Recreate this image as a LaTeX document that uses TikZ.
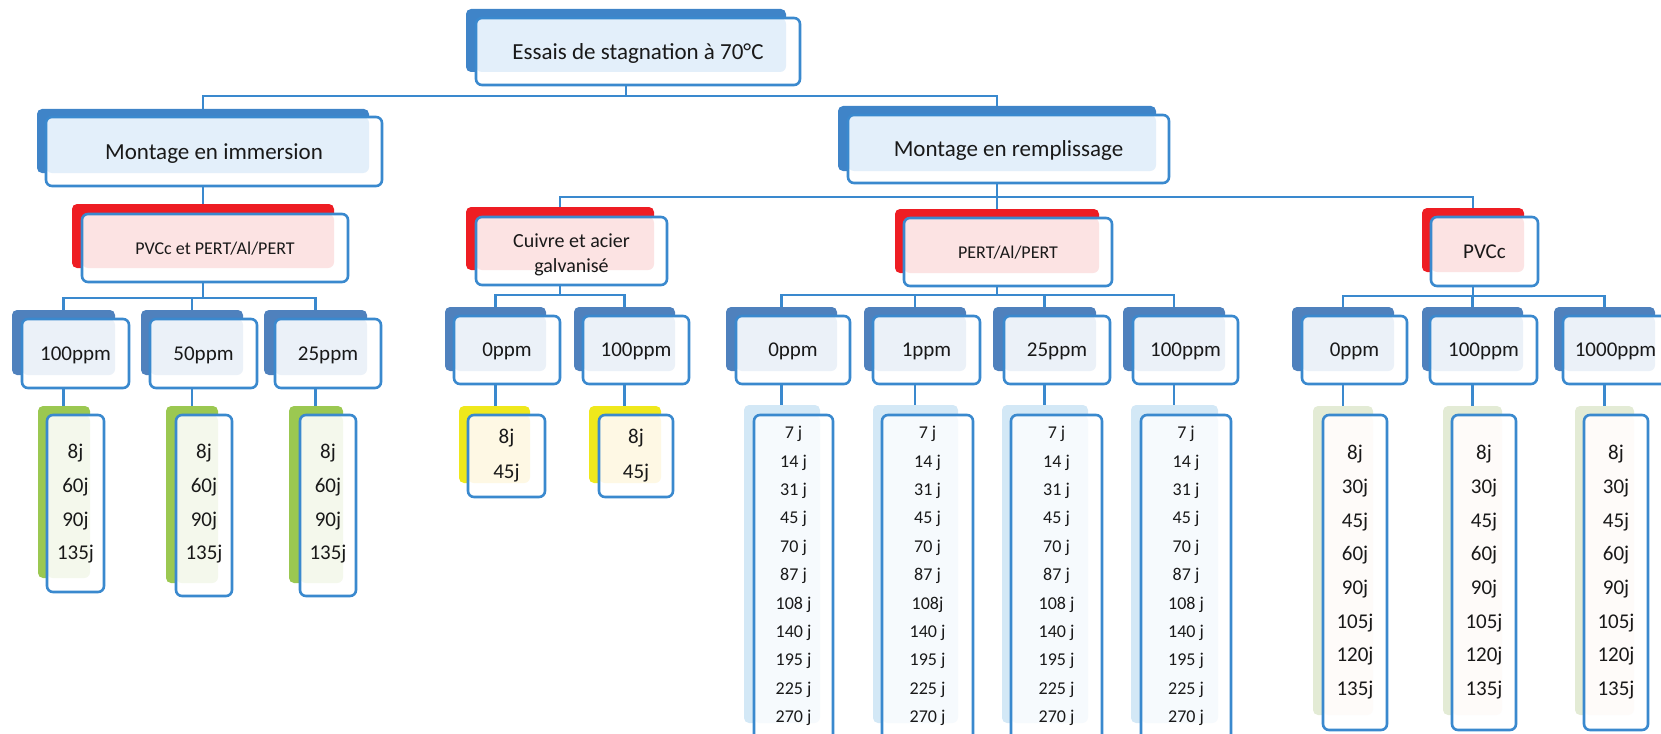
\documentclass[tikz,border=0pt]{standalone}
\usepackage{fontspec}
\setmainfont{Carlito}
\definecolor{lineC}{HTML}{3A89CE}
\definecolor{blueS}{HTML}{3F84C8}
\definecolor{blueT}{HTML}{E3EFFA}
\definecolor{ppmS}{HTML}{4F81BD}
\definecolor{ppmT}{HTML}{EBF1F8}
\definecolor{redS}{HTML}{EE1D23}
\definecolor{redT}{HTML}{FCE3E3}
\definecolor{greenS}{HTML}{9BC851}
\definecolor{greenT}{HTML}{F4F8EC}
\definecolor{yellowS}{HTML}{EFE81C}
\definecolor{yellowT}{HTML}{FEF8E4}
\definecolor{lblueS}{HTML}{D3E8F6}
\definecolor{lblueT}{HTML}{F6FAFD}
\definecolor{paleS}{HTML}{E3EBD5}
\definecolor{paleT}{HTML}{FEFBF9}
\pgfdeclarelayer{bg}
\pgfsetlayers{bg,main}
\tikzset{
  shd/.style={fill=#1S, draw=none, rounded corners=5pt, inner sep=0pt, outer sep=0pt},
  frt/.style={fill=white, draw=lineC, line width=2.6pt, rounded corners=6pt, inner sep=0pt, outer sep=0pt, text=black!90, text depth=0pt},
  conn/.style={draw=lineC, line width=2.6pt},
  daytxt/.style={font=\fontsize{21}{25}\selectfont, anchor=base, inner sep=0pt, text=black!90},
  daysm/.style={font=\fontsize{18}{22}\selectfont, anchor=base, inner sep=0pt, text=black!90},
}
% name, kind, x1, y1, x2, y2
\newcommand\shbox[6]{\node[shd=#2, minimum width={#5-#3}, minimum height={#6-#4}] (#1-s) at ({(#3+#5)/2},{(#4+#6)/2}) {};}
% name, kind, x1, y1, x2, y2, text
\newcommand\frbox[7]{\node[frt, minimum width={#5-#3}, minimum height={#6-#4},
  path picture={\fill[#2T] (path picture bounding box.north west) rectangle (#1-s.south east);}]
  (#1) at ({(#3+#5)/2},{(#4+#6)/2}) {#7};}
\newcommand\bigf{\fontsize{23}{28}\selectfont}
\newcommand\ppmf{\fontsize{21}{25}\selectfont}
\begin{document}
\begin{tikzpicture}[x=1pt,y=-1pt]
\useasboundingbox (0,0) rectangle (1661,733);
% level 0 and 1
\shbox{E}{blue}{466}{9}{786}{72}
\frbox{E}{blue}{476}{18}{800}{85}{\bigf Essais de stagnation à 70°C}
\shbox{M1}{blue}{37}{109}{369}{173}
\frbox{M1}{blue}{46}{117}{382}{186}{\bigf Montage en immersion}
\shbox{M2}{blue}{838}{106}{1156}{171}
\frbox{M2}{blue}{848}{115}{1169}{183}{\bigf Montage en remplissage}
% level 2
\shbox{P1}{red}{72}{204}{334}{268}
\frbox{P1}{red}{82}{214}{348}{282}{\fontsize{18}{22}\selectfont PVCc et PERT/Al/PERT}
\shbox{C}{red}{466}{207}{654}{270}
\frbox{C}{red}{476}{217}{667}{285}{\fontsize{20}{25}\selectfont\begin{tabular}[b]{@{}c@{}}Cuivre et acier\\galvanisé\end{tabular}}
\shbox{P2}{red}{895}{209}{1099}{273}
\frbox{P2}{red}{904}{218}{1112}{286}{\fontsize{18}{22}\selectfont PERT/Al/PERT}
\shbox{P3}{red}{1422}{208}{1524}{272}
\frbox{P3}{red}{1431}{217}{1538}{286}{\fontsize{21}{25}\selectfont PVCc}
% level 3
\shbox{a1}{ppm}{12}{310}{115}{375}
\frbox{a1}{ppm}{22}{319}{129}{388}{\ppmf 100ppm}
\shbox{a2}{ppm}{141}{310}{243}{375}
\frbox{a2}{ppm}{150}{319}{257}{388}{\ppmf 50ppm}
\shbox{a3}{ppm}{264}{310}{367}{375}
\frbox{a3}{ppm}{275}{319}{381}{388}{\ppmf 25ppm}
\shbox{b1}{ppm}{445}{307}{546}{371}
\frbox{b1}{ppm}{454}{316}{560}{384}{\ppmf 0ppm}
\shbox{b2}{ppm}{574}{307}{675}{371}
\frbox{b2}{ppm}{583}{316}{689}{384}{\ppmf 100ppm}
\shbox{c1}{ppm}{726}{307}{837}{371}
\frbox{c1}{ppm}{736}{316}{850}{384}{\ppmf 0ppm}
\shbox{c2}{ppm}{864}{307}{966}{371}
\frbox{c2}{ppm}{873}{316}{980}{384}{\ppmf 1ppm}
\shbox{c3}{ppm}{993}{307}{1096}{371}
\frbox{c3}{ppm}{1004}{316}{1110}{384}{\ppmf 25ppm}
\shbox{c4}{ppm}{1123}{307}{1225}{371}
\frbox{c4}{ppm}{1133}{316}{1238}{384}{\ppmf 100ppm}
\shbox{d1}{ppm}{1292}{307}{1394}{371}
\frbox{d1}{ppm}{1302}{316}{1407}{384}{\ppmf 0ppm}
\shbox{d2}{ppm}{1422}{307}{1523}{371}
\frbox{d2}{ppm}{1430}{316}{1537}{384}{\ppmf 100ppm}
\shbox{d3}{ppm}{1554}{307}{1655}{371}
\frbox{d3}{ppm}{1563}{316}{1668}{384}{\ppmf 1000ppm}
% level 4 columns
\shbox{ga1}{green}{38}{406}{90}{578}
\frbox{ga1}{green}{47}{415}{104}{592}{}
\shbox{ga2}{green}{166}{406}{218}{583}
\frbox{ga2}{green}{176}{415}{232}{596}{}
\shbox{ga3}{green}{289}{406}{343}{583}
\frbox{ga3}{green}{300}{415}{356}{596}{}
\shbox{yb1}{yellow}{459}{406}{530}{483}
\frbox{yb1}{yellow}{468}{415}{545}{497}{}
\shbox{yb2}{yellow}{589}{406}{661}{483}
\frbox{yb2}{yellow}{599}{415}{673}{497}{}
\shbox{lc1}{lblue}{744}{405}{820}{723}
\frbox{lc1}{lblue}{754}{415}{833}{745}{}
\shbox{lc2}{lblue}{873}{405}{958}{723}
\frbox{lc2}{lblue}{882}{415}{973}{745}{}
\shbox{lc3}{lblue}{1002}{405}{1088}{723}
\frbox{lc3}{lblue}{1011}{415}{1102}{745}{}
\shbox{lc4}{lblue}{1131}{405}{1218}{723}
\frbox{lc4}{lblue}{1141}{415}{1231}{745}{}
\shbox{pd1}{pale}{1313}{406}{1373}{715}
\frbox{pd1}{pale}{1323}{415}{1387}{730}{}
\shbox{pd2}{pale}{1443}{406}{1502}{715}
\frbox{pd2}{pale}{1452}{415}{1516}{730}{}
\shbox{pd3}{pale}{1575}{406}{1634}{715}
\frbox{pd3}{pale}{1584}{415}{1648}{730}{}
% column texts
\foreach \xx/\nm in {75.5/ga1,204/ga2,328/ga3}{
  \foreach \t [count=\i from 0] in {8j,60j,90j,135j}
    \node[daytxt] (\nm-t\i) at (\xx,{452+33.7*\i+6.6}) {\t};
}
\foreach \xx/\nm in {506.5/yb1,636/yb2}{
  \foreach \t [count=\i from 0] in {8j,45j}
    \node[daytxt] (\nm-t\i) at (\xx,{437+35*\i+6.6}) {\t};
}
\foreach \xx/\nm in {793.5/lc1,1056.5/lc3,1186/lc4}{
  \foreach \t [count=\i from 0] in {7 j,14 j,31 j,45 j,70 j,87 j,108 j,140 j,195 j,225 j,270 j}
    \node[daysm] (\nm-t\i) at (\xx,{433+28.4*\i+5.7}) {\t};
}
\foreach \t [count=\i from 0] in {7 j,14 j,31 j,45 j,70 j,87 j,108j,140 j,195 j,225 j,270 j}
  \node[daysm] (lc2-t\i) at (927.5,{433+28.4*\i+5.7}) {\t};
\foreach \xx/\nm in {1355/pd1,1484/pd2,1616/pd3}{
  \foreach \t [count=\i from 0] in {8j,30j,45j,60j,90j,105j,120j,135j}
    \node[daytxt] (\nm-t\i) at (\xx,{453+33.7*\i+6.6}) {\t};
}
% connectors
\begin{pgfonlayer}{bg}
\coordinate (Ebus) at (E-s.south |- 0,96);
\draw[conn] (E-s.south |- E.south) -- (Ebus) -| (M1-s.north);
\draw[conn] (Ebus) -| (M2-s.north);
\draw[conn] (M1-s.south |- M1.south) -- (M1-s.south |- P1-s.north);
\coordinate (M2bus) at (M2-s.south |- 0,197);
\draw[conn] (M2-s.south |- M2.south) -- (M2bus) -| (C-s.north);
\draw[conn] (M2bus) -| (P2-s.north);
\draw[conn] (M2bus) -| (P3-s.north);
\coordinate (P1bus) at (P1-s.south |- 0,298);
\draw[conn] (P1-s.south |- P1.south) -- (P1bus);
\foreach \k in {a1,a2,a3} \draw[conn] (P1bus) -| (\k-s.north);
\coordinate (Cbus) at (C-s.south |- 0,295);
\draw[conn] (C-s.south |- C.south) -- (Cbus);
\foreach \k in {b1,b2} \draw[conn] (Cbus) -| (\k-s.north);
\coordinate (P2bus) at (P2-s.south |- 0,295);
\draw[conn] (P2-s.south |- P2.south) -- (P2bus);
\foreach \k in {c1,c2,c3,c4} \draw[conn] (P2bus) -| (\k-s.north);
\coordinate (P3bus) at (P3-s.south |- 0,296);
\draw[conn] (P3-s.south |- P3.south) -- (P3bus);
\foreach \k in {d1,d2,d3} \draw[conn] (P3bus) -| (\k-s.north);
\foreach \p/\q in {a1/ga1,a2/ga2,a3/ga3,b1/yb1,b2/yb2,c1/lc1,c2/lc2,c3/lc3,c4/lc4,d1/pd1,d2/pd2,d3/pd3}
  \draw[conn] (\p-s.south |- \p.south) -- (\p-s.south |- \q-s.north);
\end{pgfonlayer}
\end{tikzpicture}
\end{document}
